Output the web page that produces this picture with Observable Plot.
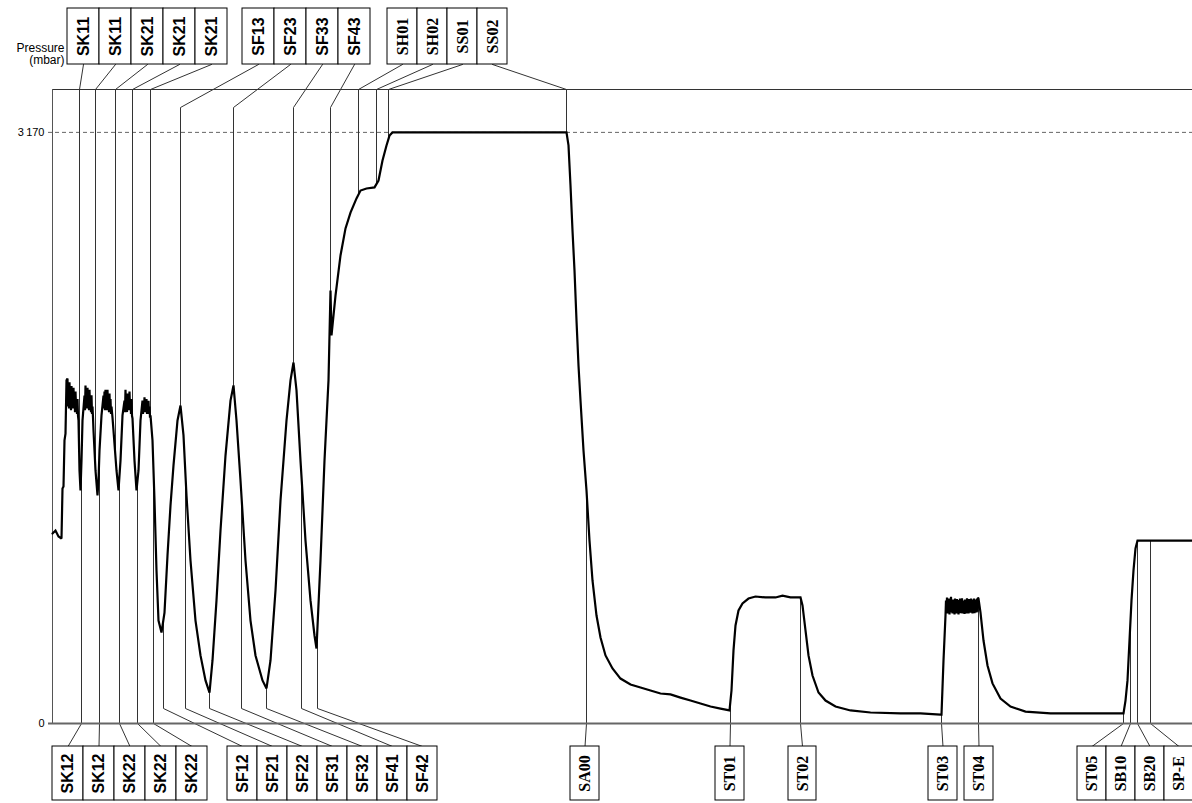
<!DOCTYPE html>
<html><head><meta charset="utf-8">
<script src="https://cdn.jsdelivr.net/npm/d3@7"></script>
<script src="https://cdn.jsdelivr.net/npm/@observablehq/plot@0.6"></script>
<style>body{margin:0;background:#fff}svg{display:block}</style>
</head><body><div id="chart"></div>
<script>
// ---- data (time units, pressure in mbar) ----
const pressureTrace = [[0,1019],[3,1035],[6,1003],[9,992],[10,1260],[11,1271],[12,1518],[13,1555],[14,1840],
[15,1850],[15.5,1700],[16,1800],[16.5,1690],[17,1830],[17.5,1720],[18,1780],[18.5,1680],[19,1810],[19.5,1700],[20,1770],[20.5,1690],[21,1800],[21.5,1710],[22,1760],[22.5,1670],[23,1780],[23.5,1700],[24,1740],[24.5,1660],[25,1740],[25.5,1650],[26,1625],[27,1357],[28,1250],[29,1410],[30,1625],
[32,1759],[32.5,1680],[33,1813],[33.5,1700],[34,1790],[34.5,1690],[35,1800],[35.5,1700],[36,1760],[36.5,1680],[37,1790],[37.5,1690],[38,1750],[38.5,1670],[39,1760],[39.5,1660],[40,1700],[40.5,1640],[41,1571],[43,1357],[45,1223],[46,1303],[47,1464],[49,1652],
[51,1759],[51.5,1690],[52,1780],[52.5,1680],[53,1790],[53.5,1700],[54,1760],[54.5,1680],[55,1790],[55.5,1690],[56,1750],[56.5,1670],[57,1770],[57.5,1680],[58,1740],[58.5,1660],[59,1700],[60,1640],[61,1571],[64,1357],[66,1250],[68,1410],[70,1652],
[72,1732],[72.5,1670],[73,1790],[73.5,1680],[74,1750],[74.5,1670],[75,1770],[75.5,1690],[76,1760],[76.5,1680],[77,1780],[77.5,1690],[78,1740],[78.5,1660],[79,1740],[79.5,1650],[80,1636],[82,1410],[84,1250],[86,1357],[88,1625],
[90,1732],[90.5,1660],[91,1720],[91.5,1670],[92,1750],[92.5,1680],[93,1730],[93.5,1670],[94,1740],[94.5,1660],[95,1710],[95.5,1670],[96,1730],[96.5,1660],[97,1700],[97.5,1640],[98,1652],
[100,1518],[102,1196],[104,821],[106,552],[109,488],[112,595],[115,901],[118,1169],[121,1384],[125,1625],[128,1705],[131,1545],[134,1223],[138,874],[143,552],[148,365],[153,231],[157,166],[160,338],[164,660],[168,1035],[173,1437],[178,1732],[181,1813],[184,1625],[188,1303],[193,874],[198,552],[203,365],[210,231],[214,188],[218,338],[223,713],[228,1196],[234,1625],[238,1840],[241,1936],[244,1786],[248,1410],[253,981],[258,660],[262,472],[264,402],[268,874],[272,1410],[276,1840],[278,2322],[279,2081],[283,2295],[288,2510],[293,2655],[298,2740],[304,2816],[308,2858],[314,2869],[322,2875],[326,2912],[330,3019],[334,3100],[337,3153],[340,3170],[514,3170],
[516,3100],[518,2885],[520,2644],[522,2430],[524,2161],[526,1920],[528,1732],[531,1464],[534,1250],[537,981],[540,767],[544,579],[548,461],[553,365],[560,295],[568,241],[578,209],[588,193],[598,177],[608,161],[618,156],[628,139],[638,123],[648,107],[658,91],[668,80],[677,70],
[679,177],[681,392],[683,526],[686,606],[690,644],[696,670],[703,681],[713,676],[723,676],[730,686],[738,676],[748,676],
[750,633],[753,499],[756,365],[760,257],[766,166],[773,123],[783,91],[798,70],[818,59],[848,54],[868,54],[888,48],[889,48],[891,338],[893,579],
[893.5,660],[894,610],[894.5,675],[895,590],[895.5,650],[896,600],[896.5,670],[897,585],[897.5,655],[898,605],[898.5,680],[899,595],[899.5,650],[900,590],[900.5,665],[901,600],[901.5,660],[902,585],[902.5,670],[903,605],[903.5,655],[904,590],[904.5,668],[905,600],[905.5,650],[906,585],[906.5,662],[907,598],[907.5,670],[908,592],[908.5,655],[909,600],[909.5,672],[910,590],[910.5,660],[911,598],[911.5,650],[912,588],[912.5,665],[913,604],[913.5,660],[914,590],[914.5,672],[915,600],[915.5,655],[916,590],[916.5,668],[917,598],[917.5,660],[918,594],[918.5,670],[919,600],[919.5,655],[920,590],[920.5,665],[921,600],[921.5,670],[922,592],[922.5,660],[923,600],[923.5,665],[924,595],[924.5,670],[925,600],[925.5,675],[926,670],
[928,595],[931,445],[935,311],[940,215],[948,134],[958,91],[973,64],[998,54],[1028,54],[1071,54],[1073,123],[1075,231],[1077,445],[1079,660],[1081,821],[1083,939],[1085,981],[1140,981]];

const topEventNames = ["SK11","SK11","SK21","SK21","SK21","SF13","SF23","SF33","SF43","SH01","SH02","SS01","SS02"];
const topEventTimes = [27,43,63,80,98,128,181,241,278,306,324,336,514];
const bottomEventNames = ["SK12","SK12","SK22","SK22","SK22","SF12","SF21","SF22","SF31","SF32","SF41","SF42","SA00","ST01","ST02","ST03","ST04","ST05","SB10","SB20","SP-E"];
const bottomEventTimes = [29,47,67,85,101,111,133,157,189,214,249,265,534,678,748,889,926,1071,1078,1085,1098];

const yTickValues = [0, 3170];
const yTickLabels = ["0", "3\u2009170"];
const yLabelLines = ["Pressure", "(mbar)"];
const refLevel = 3170;

// ---- layout ----
const W = 1192, H = 803, mL = 52, mR = 0, mT = 89, mB = 80;
const xDomain = [0, 1140], yDomain = [0, 3400];
const pxToT = d3.scaleLinear().domain([mL, W - mR]).range(xDomain);
const pyToP = d3.scaleLinear().domain([H - mB, mT]).range(yDomain);

const topGroups = [{x0:67,w:32,n:5,kink:false},{x0:242,w:32,n:4,kink:true},{x0:387,w:30,n:4,kink:false}];
const bottomGroups = [{x0:52,w:31,n:5,kink:false},{x0:227,w:30,n:7,kink:true},{x0:570,w:29,n:1,kink:false},{x0:715,w:29,n:1,kink:false},{x0:788,w:28,n:1,kink:false},{x0:928,w:29,n:1,kink:false},{x0:964,w:29,n:1,kink:false},{x0:1077,w:29,n:4,kink:false}];
const topBox = [8, 64], bottomBox = [746, 800];
const topKinkPy = 107, bottomKinkPy = 708;

const trace = pressureTrace.map(([t, p]) => ({t, p}));
const bis = d3.bisector(d => d.t).left;
function curveAt(t) {
  const i = bis(trace, t);
  if (i <= 0) return trace[0].p;
  if (i >= trace.length) return trace[trace.length - 1].p;
  const a = trace[i - 1], b = trace[i];
  if (b.t === t) return b.p;
  return a.p + (b.p - a.p) * (t - a.t) / (b.t - a.t);
}

const boxes = [], leaders = [];
function build(names, times, groups, side) {
  let k = 0;
  groups.forEach(g => {
    for (let j = 0; j < g.n; j++, k++) {
      const name = names[k], t = times[k];
      const bx1 = g.x0 + j * g.w, bx2 = bx1 + g.w, cx = (bx1 + bx2) / 2;
      const [by1, by2] = side === "top" ? topBox : bottomBox;
      boxes.push({name, x1: pxToT(bx1), x2: pxToT(bx2), y1: pyToP(by1), y2: pyToP(by2),
        cx: pxToT(cx), cy: pyToP((by1 + by2) / 2), serif: !/^S[KF]/.test(name)});
      const id = side + k;
      const cp = curveAt(t);
      if (side === "top") {
        const kp = g.kink ? pyToP(topKinkPy) : yDomain[1];
        leaders.push({id, t: pxToT(cx), p: pyToP(by2)}, {id, t, p: kp}, {id, t, p: cp});
      } else {
        const kp = g.kink ? pyToP(bottomKinkPy) : 0;
        leaders.push({id, t, p: cp}, {id, t, p: kp}, {id, t: pxToT(cx), p: pyToP(by1)});
      }
    }
  });
}
build(topEventNames, topEventTimes, topGroups, "top");
build(bottomEventNames, bottomEventTimes, bottomGroups, "bottom");

const ticks = yTickValues.map((v, i) => ({v, label: yTickLabels[i]}));
const sans = "'Liberation Sans', Arial, sans-serif";
const serif = "'Liberation Serif', 'Times New Roman', serif";

const chart = Plot.plot({
  width: W, height: H, marginLeft: mL, marginRight: mR, marginTop: mT, marginBottom: mB,
  x: {domain: xDomain, axis: null},
  y: {domain: yDomain, axis: null},
  style: {background: "#fff", fontFamily: sans, overflow: "visible"},
  marks: [
    Plot.ruleY([refLevel], {x1: pxToT(48), x2: xDomain[1], stroke: "#666", strokeDasharray: "4,3", strokeWidth: 1}),
    Plot.line(leaders, {x: "t", y: "p", z: "id", stroke: "#333", strokeWidth: 1, curve: "linear"}),
    Plot.ruleY([yDomain[1]], {x1: xDomain[0], x2: xDomain[1], stroke: "#333", strokeWidth: 1}),
    Plot.ruleX([xDomain[0]], {y1: 0, y2: yDomain[1], stroke: "#555", strokeWidth: 1}),
    Plot.ruleY([0], {x1: pxToT(48), x2: xDomain[1], stroke: "#666", strokeWidth: 2}),
    Plot.line(trace, {x: "t", y: "p", stroke: "#000", strokeWidth: 2.2, strokeLinejoin: "miter", strokeMiterlimit: 2}),
    Plot.rect(boxes, {x1: "x1", x2: "x2", y1: "y1", y2: "y2", fill: "#fff", stroke: "#000", strokeWidth: 1}),
    Plot.text(boxes.filter(d => !d.serif), {x: "cx", y: "cy", text: "name", rotate: -90, fontSize: 16, fontWeight: "bold", fontFamily: sans, fill: "#000"}),
    Plot.text(boxes.filter(d => d.serif), {x: "cx", y: "cy", text: "name", rotate: -90, fontSize: 16, fontWeight: "bold", fontFamily: serif, fill: "#000"}),
    Plot.text(ticks, {x: pxToT(44), y: "v", text: "label", textAnchor: "end", fontSize: 11, fill: "#000"}),
    Plot.text([yLabelLines[0]], {x: pxToT(64), y: pyToP(48), text: d => d, textAnchor: "end", fontSize: 12, fill: "#000"}),
    Plot.text([yLabelLines[1]], {x: pxToT(64), y: pyToP(60), text: d => d, textAnchor: "end", fontSize: 12, fill: "#000"})
  ]
});
document.getElementById("chart").appendChild(chart);
</script></body></html>
